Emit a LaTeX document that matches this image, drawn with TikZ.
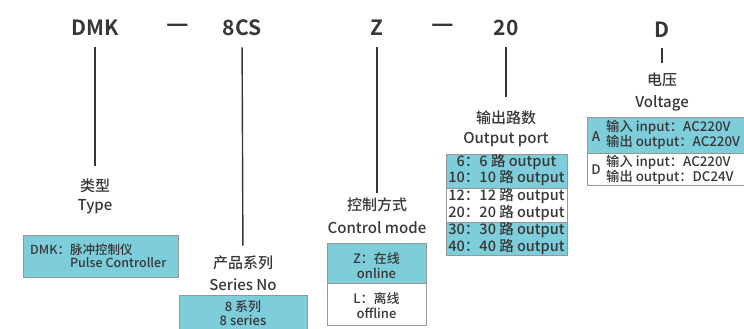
\documentclass[tikz,border=0pt]{standalone}
\usepackage{fontspec}
\setmainfont{Noto Sans CJK SC}[UprightFont={* Medium}, BoldFont={* Bold}]
\definecolor{cellblue}{RGB}{125,205,218}
\definecolor{framegray}{RGB}{150,150,150}
\definecolor{inkgray}{RGB}{55,55,55}
\begin{document}
\begin{tikzpicture}[x=1pt, y=-1pt,
    code/.style={font=\fontsize{21}{24}\selectfont\bfseries, text=inkgray, inner sep=0pt},
    caption/.style={font=\fontsize{15}{17}\selectfont, text=inkgray, inner sep=0pt},
    cell/.style={draw=framegray, line width=0.9pt},
    celltext/.style={font=\fontsize{12.5}{13.5}\selectfont, text=inkgray, inner sep=0pt},
    lead/.style={draw=inkgray, line width=1.4pt}]
  \useasboundingbox (0,0) rectangle (744,329);
  \clip (0,0) rectangle (744,329);

  % model code
  \node[code] (dmk) at (95,28) {DMK};
  \node[code, font=\fontsize{25}{28}\selectfont\bfseries] (dashA) at (178,28) {—};
  \node[code] (ser) at (242,28) {8CS};
  \node[code] (ctl) at (377,28) {Z};
  \node[code, font=\fontsize{25}{28}\selectfont\bfseries] (dashB) at (443,28) {—};
  \node[code] (out) at (506,28) {20};
  \node[code] (vol) at (662,30) {D};

  % captions
  \node[caption] (typecn) at (95,186) {类型};
  \node[caption] (typeen) at (95,207) {Type};
  \node[caption] (sercn) at (243,263) {产品系列};
  \node[caption] (seren) at (243,285) {Series No};
  \node[caption] (ctlcn) at (377,205) {控制方式};
  \node[caption] (ctlen) at (377,228) {Control mode};
  \node[caption] (outcn) at (506,118) {输出路数};
  \node[caption] (outen) at (506,140) {Output port};
  \node[caption] (volcn) at (662,80) {电压};
  \node[caption] (volen) at (662,103) {Voltage};

  % leads
  \draw[lead, shorten <=11pt, shorten >=13pt] (dmk) -- (typecn);
  \draw[lead, shorten <=11pt, shorten >=10pt] (ser) -- (sercn);
  \draw[lead, shorten <=11pt, shorten >=5pt] (ctl) -- (ctlcn);
  \draw[lead, shorten <=11pt, shorten >=14pt] (out) -- (outcn);
  \draw[lead, shorten <=10pt, shorten >=10pt] (vol) -- (volcn);

  % type
  \draw[cell, fill=cellblue] (23,235) rectangle (178,277);
  \node[celltext, anchor=west, align=left] (typebox) at (30,256)
    {DMK：脉冲控制仪\\\phantom{DMK：}Pulse Controller};

  % series
  \draw[cell, fill=cellblue] (179,295) rectangle (307,345);
  \node[celltext, align=center, font=\fontsize{13}{14}\selectfont] (serbox) at (243,313.5) {8 系列\\8 series};

  % control mode
  \draw[cell, fill=cellblue] (327,243) rectangle (426,283);
  \draw[cell, fill=white] (327,283) rectangle (426,325);
  \node[celltext, align=center, font=\fontsize{13}{15}\selectfont] (ctlZ) at (376.5,265.5) {Z：在线\\online};
  \node[celltext, align=center, font=\fontsize{13}{15}\selectfont] (ctlL) at (376.5,305.5) {L：离线\\offline};

  % output port
  \draw[cell, fill=cellblue] (446,154) rectangle (567,188);
  \draw[cell, fill=white] (446,188) rectangle (567,222);
  \draw[cell, fill=cellblue] (446,222) rectangle (567,255);
  \tikzset{celltext/.append style={font=\fontsize{14.5}{14.5}\selectfont}}
  \node[celltext, align=center] (outA) at (506.5,170) {6：6 路 output\\10：10 路 output};
  \node[celltext, align=center] (outB) at (506.5,204.5) {12：12 路 output\\20：20 路 output};
  \node[celltext, align=center] (outC) at (506.5,238.5) {30：30 路 output\\40：40 路 output};

  % voltage
  \tikzset{celltext/.append style={font=\fontsize{13.3}{12.8}\selectfont}}
  \draw[cell, fill=cellblue] (587,117) rectangle (750,153);
  \draw[cell, fill=white] (587,153) rectangle (750,185);
  \node[celltext] (volA) at (596,137) {A};
  \node[celltext] (volD) at (596,170) {D};
  \node[celltext, anchor=west, align=left] (volAtxt) at (606,134.5)
    {输入 input：AC220V\\输出 output：AC220V};
  \node[celltext, anchor=west, align=left] (volDtxt) at (606,170)
    {输入 input：AC220V\\输出 output：DC24V};
\end{tikzpicture}
\end{document}
